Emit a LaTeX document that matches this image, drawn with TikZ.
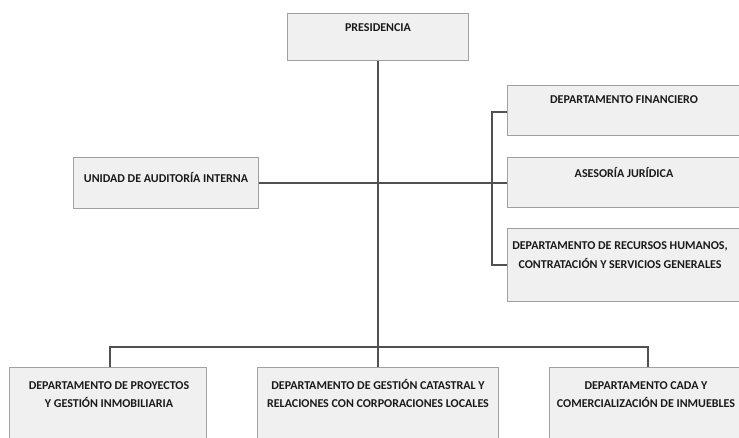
\documentclass[tikz,border=0pt]{standalone}
\usepackage{fontspec}
\setmainfont{Carlito}
\definecolor{boxfill}{HTML}{F0F0F0}
\definecolor{boxline}{HTML}{A0A0A0}
\definecolor{conn}{HTML}{505050}
\definecolor{txt}{HTML}{1A1A1A}
\begin{document}
\begin{tikzpicture}[x=1pt,y=-1pt,
  orgbox/.style={draw=boxline,fill=boxfill,line width=0.9pt,inner sep=0pt,anchor=north west},
  lbl/.style={font=\bfseries\fontsize{12}{19}\selectfont,text=txt,align=center,inner sep=0pt},
  link/.style={draw=conn,line width=1.1pt}]
\useasboundingbox (0,0) rectangle (739,437);
\clip (0,0) rectangle (739,437);
% boxes
\node[orgbox,minimum width=181pt,minimum height=47pt] (pres) at (287,13) {};
\node[orgbox,minimum width=185pt,minimum height=51pt] (audit) at (73,157) {};
\node[orgbox,minimum width=232pt,minimum height=50pt] (fin) at (507,85) {};
\node[orgbox,minimum width=232pt,minimum height=50pt] (jur) at (507,157) {};
\node[orgbox,minimum width=232pt,minimum height=73pt] (rrhh) at (507,228) {};
\node[orgbox,minimum width=197pt,minimum height=90pt] (proy) at (9,367) {};
\node[orgbox,minimum width=241pt,minimum height=90pt] (cat) at (257,367) {};
\node[orgbox,minimum width=198pt,minimum height=90pt] (cada) at (549,367) {};
% texts
\node[lbl,anchor=base] (tpres) at (378,31) {PRESIDENCIA};
\node[lbl,anchor=base] (taudit) at (166,182) {UNIDAD DE AUDITORÍA INTERNA};
\node[lbl,anchor=base] (tfin) at (624,103) {DEPARTAMENTO FINANCIERO};
\node[lbl,anchor=base] (tjur) at (624,177) {ASESORÍA JURÍDICA};
\node[lbl,anchor=base] (trrhh) at (620,249) {DEPARTAMENTO DE RECURSOS HUMANOS,};
\node[lbl,anchor=base] (trrhh2) at (620,268) {CONTRATACIÓN Y SERVICIOS GENERALES};
\node[lbl,anchor=base] (tproy) at (109,389) {DEPARTAMENTO DE PROYECTOS};
\node[lbl,anchor=base] (tproy2) at (109,407) {Y GESTIÓN INMOBILIARIA};
\node[lbl,anchor=base] (tcat) at (378,389) {DEPARTAMENTO DE GESTIÓN CATASTRAL Y};
\node[lbl,anchor=base] (tcat2) at (378,407) {RELACIONES CON CORPORACIONES LOCALES};
\node[lbl,anchor=base] (tcada) at (646,389) {DEPARTAMENTO CADA Y};
\node[lbl,anchor=base] (tcada2) at (646,407) {COMERCIALIZACIÓN DE INMUEBLES};
% connector points
\coordinate (bus) at (378,347);
\coordinate (brk) at (492,186);
% connectors
\draw[link] (pres.south) -- (cat.north);
\draw[link] (audit.east) -- (jur.west |- audit.east);
\draw[link] (fin.west |- 0,112) -| (brk) |- (rrhh.west |- 0,265);
\draw[link] (proy.north -| 110,0) |- (bus) -| (cada.north -| 648,0);
\end{tikzpicture}
\end{document}
